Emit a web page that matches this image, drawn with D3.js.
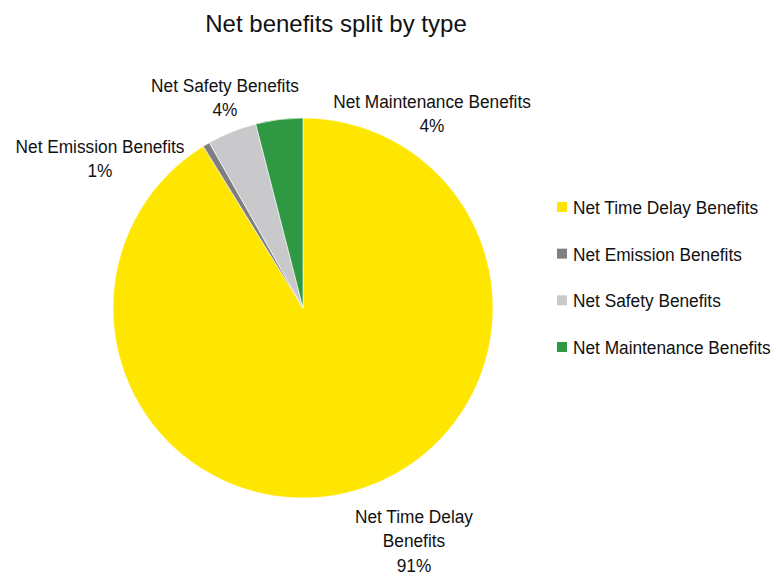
<!DOCTYPE html>
<html>
<head>
<meta charset="utf-8">
<script src="https://cdn.jsdelivr.net/npm/d3@7"></script>
<style>
  html, body { margin: 0; padding: 0; background: #fff; }
  svg text { font-family: "Liberation Sans Narrow", "Arial Narrow", "Liberation Sans", Arial, sans-serif; fill: #111; }
</style>
</head>
<body>
<svg id="chart" width="776" height="576"></svg>
<script>
// Benefit categories and their share of total net benefits (%)
const categories = ["Net Time Delay Benefits", "Net Emission Benefits", "Net Safety Benefits", "Net Maintenance Benefits"];
const shares = [91.2, 0.6, 4.2, 4.0];
const colors = ["#FFE600", "#7F7F83", "#C9C9CB", "#2E9942"];
// Slice label lines (the first category wraps onto two lines)
const labelLines = [["Net Time Delay", "Benefits"], ["Net Emission Benefits"], ["Net Safety Benefits"], ["Net Maintenance Benefits"]];

const svg = d3.select("#chart");
const cx = 303, cy = 308, R = 190;
const squeeze = 0.96; // slightly condensed type

// Horizontally condense a text element around its anchor x
function condense(sel, x, k) {
  sel.attr("transform", `translate(${x},0) scale(${k},1) translate(${-x},0)`);
}

const data = categories.map((c, i) => ({ name: c, value: shares[i], color: colors[i], lines: labelLines[i] }));

svg.append("text")
  .attr("x", 336).attr("y", 32)
  .attr("text-anchor", "middle")
  .style("font-size", "24px")
  .text("Net benefits split by type");

const pie = d3.pie().value(d => d.value).sort(null);
const arc = d3.arc().innerRadius(0).outerRadius(R);
const arcs = pie(data);

const g = svg.append("g").attr("transform", `translate(${cx},${cy})`);
g.selectAll("path").data(arcs).enter().append("path")
  .attr("d", arc)
  .attr("fill", d => d.data.color)
  .attr("stroke", "#fff")
  .attr("stroke-width", 0.6);

// Slice labels: name plus rounded share
const labelPos = [[414, 516], [100, 146], [225, 85], [432, 101]];
const lineH = 24.5;

arcs.forEach((a, i) => {
  const [x, y] = labelPos[i];
  const t = svg.append("text").attr("text-anchor", "middle").style("font-size", "18px");
  const lines = a.data.lines.concat([Math.round(a.data.value) + "%"]);
  lines.forEach((ln, k) => {
    t.append("tspan").attr("x", x).attr("y", y + 7 + k * lineH).text(ln);
  });
  condense(t, x, squeeze);
});

// Legend
const legY = d3.scalePoint().domain(categories).range([207, 347]);
const leg = svg.append("g");
categories.forEach((c, i) => {
  const y = legY(c);
  leg.append("rect").attr("x", 557).attr("y", y - 5).attr("width", 10).attr("height", 10).attr("fill", colors[i]);
  const t = leg.append("text").attr("x", 573).attr("y", y + 7).style("font-size", "18px").text(c);
  condense(t, 573, squeeze);
});
</script>
</body>
</html>
